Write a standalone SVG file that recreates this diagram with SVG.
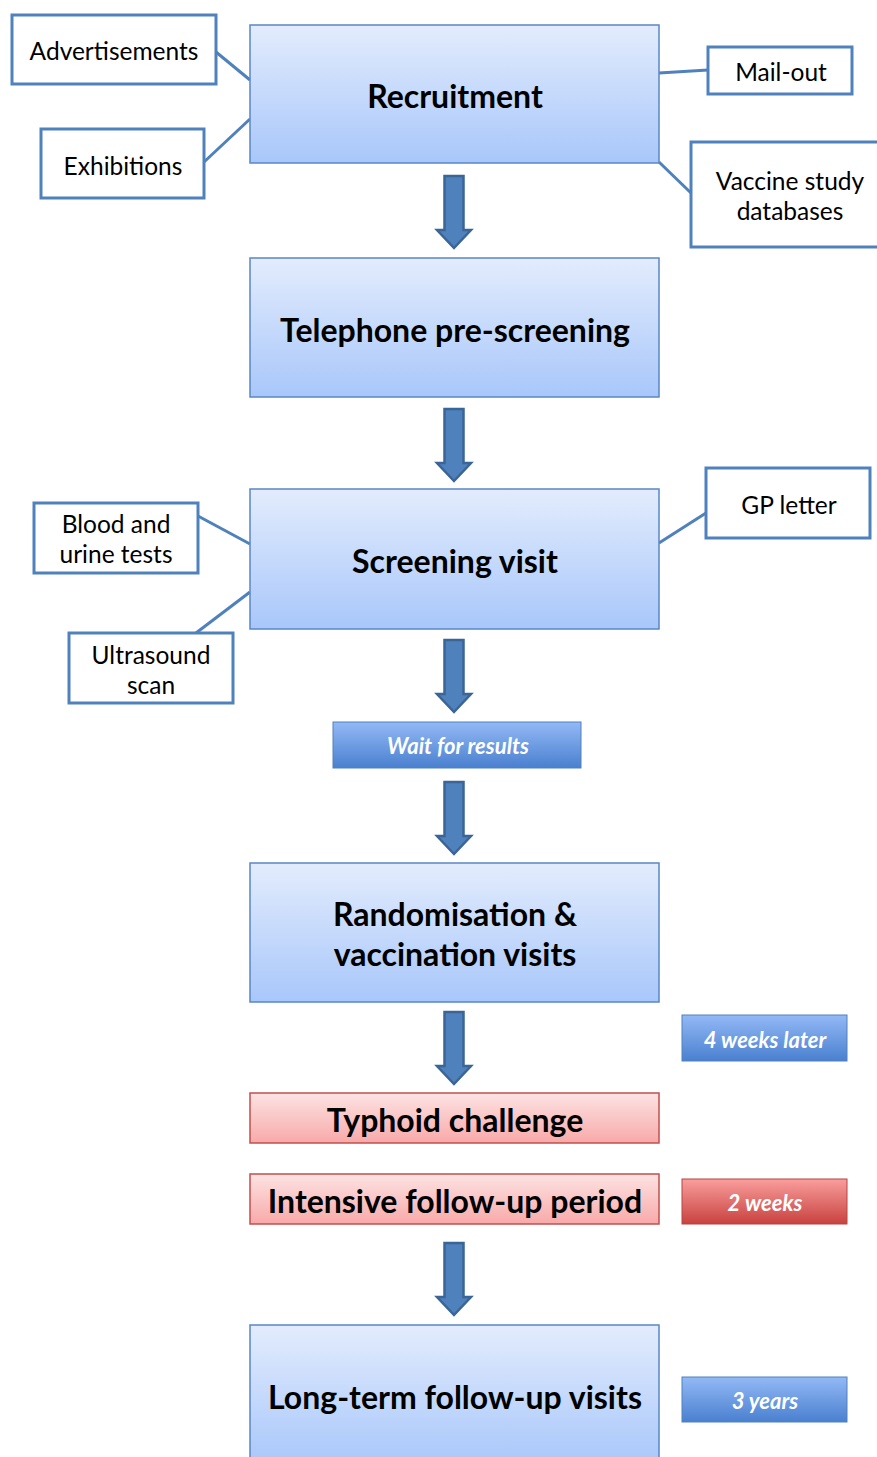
<svg xmlns="http://www.w3.org/2000/svg" width="877" height="1457" viewBox="0 0 877 1457">
<defs>
<linearGradient id="gBlue" x1="0" y1="0" x2="0" y2="1"><stop offset="0" stop-color="#e3ecfd"/><stop offset="1" stop-color="#a8c7fa"/></linearGradient>
<linearGradient id="gPink" x1="0" y1="0" x2="0" y2="1"><stop offset="0" stop-color="#fde3e3"/><stop offset="1" stop-color="#f8a9a9"/></linearGradient>
<linearGradient id="gTagBlue" x1="0" y1="0" x2="0" y2="1"><stop offset="0" stop-color="#93b9f6"/><stop offset="1" stop-color="#4a80cf"/></linearGradient>
<linearGradient id="gTagRed" x1="0" y1="0" x2="0" y2="1"><stop offset="0" stop-color="#f99e9d"/><stop offset="1" stop-color="#c8423f"/></linearGradient>
<path id="arrow" d="M-9.5,0 H9.5 V54 H17 L0,72 L-17,54 H-9.5 Z"/>
</defs>
<style>
.main{fill:url(#gBlue);stroke:#5a87c5;stroke-width:1.5}
.pink{fill:url(#gPink);stroke:#c0504d;stroke-width:1.5}
.side{fill:#fff;stroke:#4f81bd;stroke-width:3}
.tagB{fill:url(#gTagBlue);stroke:#4f81bd;stroke-width:1}
.tagR{fill:url(#gTagRed);stroke:#b84441;stroke-width:1}
.t{font-family:Lato,"Open Sans","Liberation Sans",sans-serif;text-anchor:middle;fill:#000}
.big{font-size:32px;font-weight:bold}
.sm{font-size:24.5px}
.tag{font-size:22px;font-weight:bold;font-style:italic;fill:#fff}
.conn line{stroke:#4f81bd;stroke-width:3}
.arr{fill:#4f81bd;stroke:#3a6596;stroke-width:2.5}
</style>

<g id="connectors" class="conn">
<line x1="216" y1="52" x2="250" y2="80"/>
<line x1="204" y1="162" x2="250" y2="119"/>
<line x1="659" y1="73" x2="708" y2="70"/>
<line x1="659" y1="162" x2="691" y2="193"/>
<line x1="198" y1="516" x2="250" y2="544"/>
<line x1="196" y1="633" x2="250" y2="592"/>
<line x1="659" y1="543" x2="706" y2="513"/>
<use href="#arrow" class="arr" x="454" y="176"/>
<use href="#arrow" class="arr" x="454" y="409"/>
<use href="#arrow" class="arr" x="454" y="640"/>
<use href="#arrow" class="arr" x="454" y="782"/>
<use href="#arrow" class="arr" x="454" y="1012"/>
<use href="#arrow" class="arr" x="454" y="1243"/>
</g>

<g id="recruitment"><rect class="main" x="250" y="25" width="409" height="138"/><text class="t big" x="455" y="108">Recruitment</text></g>
<g id="advertisements"><rect class="side" x="12" y="15" width="204" height="69"/><text class="t sm" x="114" y="60">Advertisements</text></g>
<g id="exhibitions"><rect class="side" x="41" y="129" width="163" height="69"/><text class="t sm" x="123" y="175">Exhibitions</text></g>
<g id="mailout"><rect class="side" x="708" y="47" width="144" height="47"/><text class="t sm" x="781" y="81">Mail-out</text></g>
<g id="vaccine-db"><rect class="side" x="691" y="142" width="190" height="105"/><text class="t sm" x="790" y="190">Vaccine study</text><text class="t sm" x="790" y="220">databases</text></g>

<g id="telephone"><rect class="main" x="250" y="258" width="409" height="139"/><text class="t big" x="455" y="342">Telephone pre-screening</text></g>

<g id="screening"><rect class="main" x="250" y="489" width="409" height="140"/><text class="t big" x="455" y="573">Screening visit</text></g>
<g id="blood"><rect class="side" x="34" y="503" width="164" height="70"/><text class="t sm" x="116" y="533">Blood and</text><text class="t sm" x="116" y="563">urine tests</text></g>
<g id="ultrasound"><rect class="side" x="69" y="633" width="164" height="70"/><text class="t sm" x="151" y="664">Ultrasound</text><text class="t sm" x="151" y="694">scan</text></g>
<g id="gp"><rect class="side" x="706" y="468" width="164" height="70"/><text class="t sm" x="789" y="514">GP letter</text></g>

<g id="wait"><rect class="tagB" x="333" y="722" width="248" height="46"/><text class="t tag" x="458" y="754">Wait for results</text></g>

<g id="randomisation"><rect class="main" x="250" y="863" width="409" height="139"/><text class="t big" x="455" y="926">Randomisation &amp;</text><text class="t big" x="455" y="966">vaccination visits</text></g>

<g id="weeks4"><rect class="tagB" x="682" y="1015" width="165" height="46"/><text class="t tag" x="765" y="1048">4 weeks later</text></g>

<g id="typhoid"><rect class="pink" x="250" y="1093" width="409" height="50"/><text class="t big" x="455" y="1132">Typhoid challenge</text></g>
<g id="intensive"><rect class="pink" x="250" y="1174" width="409" height="50"/><text class="t big" x="455" y="1213">Intensive follow-up period</text></g>
<g id="weeks2"><rect class="tagR" x="682" y="1179" width="165" height="45"/><text class="t tag" x="765" y="1211">2 weeks</text></g>

<g id="longterm"><rect class="main" x="250" y="1325" width="409" height="140"/><text class="t big" x="455" y="1409">Long-term follow-up visits</text></g>
<g id="years3"><rect class="tagB" x="682" y="1377" width="165" height="45"/><text class="t tag" x="765" y="1409">3 years</text></g>
</svg>
